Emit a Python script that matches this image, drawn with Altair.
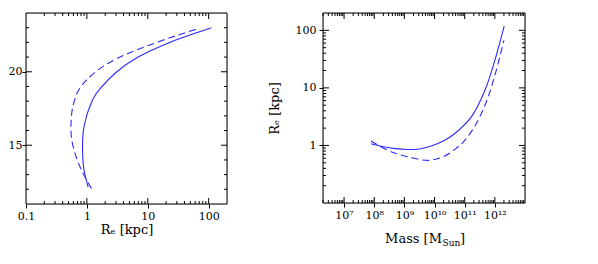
import altair as alt
import pandas as pd

# ---- data ----
left_solid_re = [1.05, 0.89, 0.85, 0.87, 0.99, 1.1, 1.3, 1.65, 3.0, 6.9, 24.5, 59, 111]
left_solid_y = [12.15, 13.4, 14.55, 15.9, 17.0, 17.55, 18.25, 18.85, 19.95, 21.0, 22.05, 22.62, 23.0]
left_dash_re = [1.19, 0.87, 0.68, 0.56, 0.55, 0.58, 0.7, 0.99, 1.9, 4.75, 13, 31.4, 65]
left_dash_y = [12.05, 13.07, 14.1, 15.45, 16.6, 17.5, 18.6, 19.45, 20.4, 21.25, 21.95, 22.5, 22.92]

right_solid_mass = [7.8e7, 2e8, 5e8, 1.26e9, 3.2e9, 7.8e9, 2.1e10, 4.7e10, 1.66e11, 4.7e11, 1e12, 2.04e12]
right_solid_re = [1.07, 0.95, 0.88, 0.85, 0.87, 0.98, 1.22, 1.61, 3.13, 9.1, 30, 118]
right_dash_mass = [7.8e7, 2.75e8, 8e8, 2.1e9, 6.3e9, 2.1e10, 5.2e10, 7.8e10, 2.1e11, 5.2e11, 1e12, 2e12]
right_dash_re = [1.19, 0.83, 0.68, 0.6, 0.55, 0.65, 0.89, 1.05, 2.1, 5.7, 16.5, 67]

left_x_labels = [0.1, 1, 10, 100]
left_x_major = [1, 10, 100]
left_x_minor = [0.2, 0.3, 0.4, 0.5, 0.6, 0.7, 0.8, 0.9, 2, 3, 4, 5, 6, 7, 8, 9,
                20, 30, 40, 50, 60, 70, 80, 90]
left_y_major = [15, 20]
left_y_minor = [12, 13, 14, 16, 17, 18, 19, 21, 22, 23]
right_x_major = [1e7, 1e8, 1e9, 1e10, 1e11, 1e12]
right_x_minor = [2e6, 3e6, 4e6, 5e6, 6e6, 7e6, 8e6, 9e6,
                 2e7, 3e7, 4e7, 5e7, 6e7, 7e7, 8e7, 9e7,
                 2e8, 3e8, 4e8, 5e8, 6e8, 7e8, 8e8, 9e8,
                 2e9, 3e9, 4e9, 5e9, 6e9, 7e9, 8e9, 9e9,
                 2e10, 3e10, 4e10, 5e10, 6e10, 7e10, 8e10, 9e10,
                 2e11, 3e11, 4e11, 5e11, 6e11, 7e11, 8e11, 9e11,
                 2e12, 3e12, 4e12, 5e12, 6e12, 7e12, 8e12, 9e12]
right_y_major = [1, 10, 100]
right_y_minor = [0.2, 0.3, 0.4, 0.5, 0.6, 0.7, 0.8, 0.9, 2, 3, 4, 5, 6, 7, 8, 9,
                 20, 30, 40, 50, 60, 70, 80, 90]

FONT = "DejaVu Serif"
BLUE = "#2a2aff"
W1, H1 = 201, 191
W2, H2 = 202, 190

lx = alt.Scale(type="log", domain=[0.1, 200], nice=False)
ly = alt.Scale(type="linear", domain=[11, 24], nice=False, zero=False)
rx = alt.Scale(type="log", domain=[2e6, 1e13], nice=False)
ry = alt.Scale(type="log", domain=[0.1, 200], nice=False)


def tick_layers(xs, ys, xmaj, xmin, ymaj, ymin, W, H):
    # inward frame ticks on all four sides, placed through the shared scales
    layers = []
    for vals, ln in ((xmaj, 6), (xmin, 3)):
        df = pd.DataFrame({"xt": vals})
        for y0, y1 in ((H, H - ln), (0, ln)):
            layers.append(alt.Chart(df).mark_rule(color="black", strokeWidth=1).encode(
                x=alt.X("xt:Q", scale=xs, axis=None),
                y=alt.value(y0), y2=alt.value(y1)))
    for vals, ln in ((ymaj, 6), (ymin, 3)):
        df = pd.DataFrame({"yt": vals})
        for x0, x1 in ((0, ln), (W, W - ln)):
            layers.append(alt.Chart(df).mark_rule(color="black", strokeWidth=1).encode(
                y=alt.Y("yt:Q", scale=ys, axis=None),
                x=alt.value(x0), x2=alt.value(x1)))
    # black frame around the plot area
    fdf = pd.DataFrame({"f": [0]})
    for (a, b, c, d) in ((0, W, 0, 0), (0, W, H, H), (0, 0, 0, H), (W, W, 0, H)):
        layers.append(alt.Chart(fdf).mark_rule(color="black", strokeWidth=1).encode(
            x=alt.value(a), x2=alt.value(b), y=alt.value(c), y2=alt.value(d)))
    return layers


def line(xv, yv, xs, ys, xaxis, yaxis, dashed):
    df = pd.DataFrame({"xv": xv, "yv": yv, "i": list(range(len(xv)))})
    kw = dict(color=BLUE, strokeWidth=1.1, interpolate="catmull-rom", clip=True)
    if dashed:
        kw["strokeDash"] = [7, 4]
    return alt.Chart(df).mark_line(**kw).encode(
        x=alt.X("xv:Q", scale=xs, axis=xaxis),
        y=alt.Y("yv:Q", scale=ys, axis=yaxis),
        order="i:Q")


common = dict(ticks=True, tickSize=4, tickColor="black", tickWidth=1, domain=False,
              grid=False, labelFont=FONT, labelFontSize=11, labelColor="black",
              labelOverlap=False, titleFont=FONT, titleFontSize=13,
              titleFontWeight="normal", titleColor="black")

left_xaxis = alt.Axis(values=left_x_labels, format="~g", labelFlush=False, labelPadding=2,
                      title="Rₑ [kpc]", titlePadding=2, **common)
left_yaxis = alt.Axis(values=left_y_major, labelPadding=0, title="", **common)

right_xaxis = alt.Axis(values=right_x_major, labelFlush=False, labelPadding=2, title="",
                       labelExpr="['10⁷','10⁸','10⁹','10¹⁰','10¹¹','10¹²'][round(log(datum.value)/LN10)-7]",
                       **common)
right_yaxis = alt.Axis(values=right_y_major, format="~g", labelPadding=3,
                       title="Rₑ [kpc]", titlePadding=14, **common)

left = alt.layer(
    line(left_solid_re, left_solid_y, lx, ly, left_xaxis, left_yaxis, False),
    line(left_dash_re, left_dash_y, lx, ly, None, None, True),
    *tick_layers(lx, ly, left_x_major, left_x_minor, left_y_major, left_y_minor, W1, H1),
).resolve_axis(x="independent", y="independent").properties(width=W1, height=H1)

title_df = pd.DataFrame({"t": ["Mass [M"], "s": ["Sun"], "b": ["]"]})
mass_title = [
    alt.Chart(title_df).mark_text(font=FONT, fontSize=13, align="right", baseline="alphabetic",
                                  color="black").encode(
        text="t:N", x=alt.value(119), y=alt.value(H2 + 40)),
    alt.Chart(title_df).mark_text(font=FONT, fontSize=9, align="left", baseline="alphabetic",
                                  color="black").encode(
        text="s:N", x=alt.value(119.5), y=alt.value(H2 + 43)),
    alt.Chart(title_df).mark_text(font=FONT, fontSize=13, align="left", baseline="alphabetic",
                                  color="black").encode(
        text="b:N", x=alt.value(137), y=alt.value(H2 + 40)),
]

right = alt.layer(
    line(right_solid_mass, right_solid_re, rx, ry, right_xaxis, right_yaxis, False),
    line(right_dash_mass, right_dash_re, rx, ry, None, None, True),
    *tick_layers(rx, ry, right_x_major, right_x_minor, right_y_major, right_y_minor, W2, H2),
    *mass_title,
).resolve_axis(x="independent", y="independent").properties(width=W2, height=H2)

chart = alt.hconcat(left, right, spacing=39).properties(
    padding={"left": -1, "top": 4, "right": 0, "bottom": 0},
    background="white",
)

chart.save("out.html", embed_options={"renderer": "svg", "actions": False})
